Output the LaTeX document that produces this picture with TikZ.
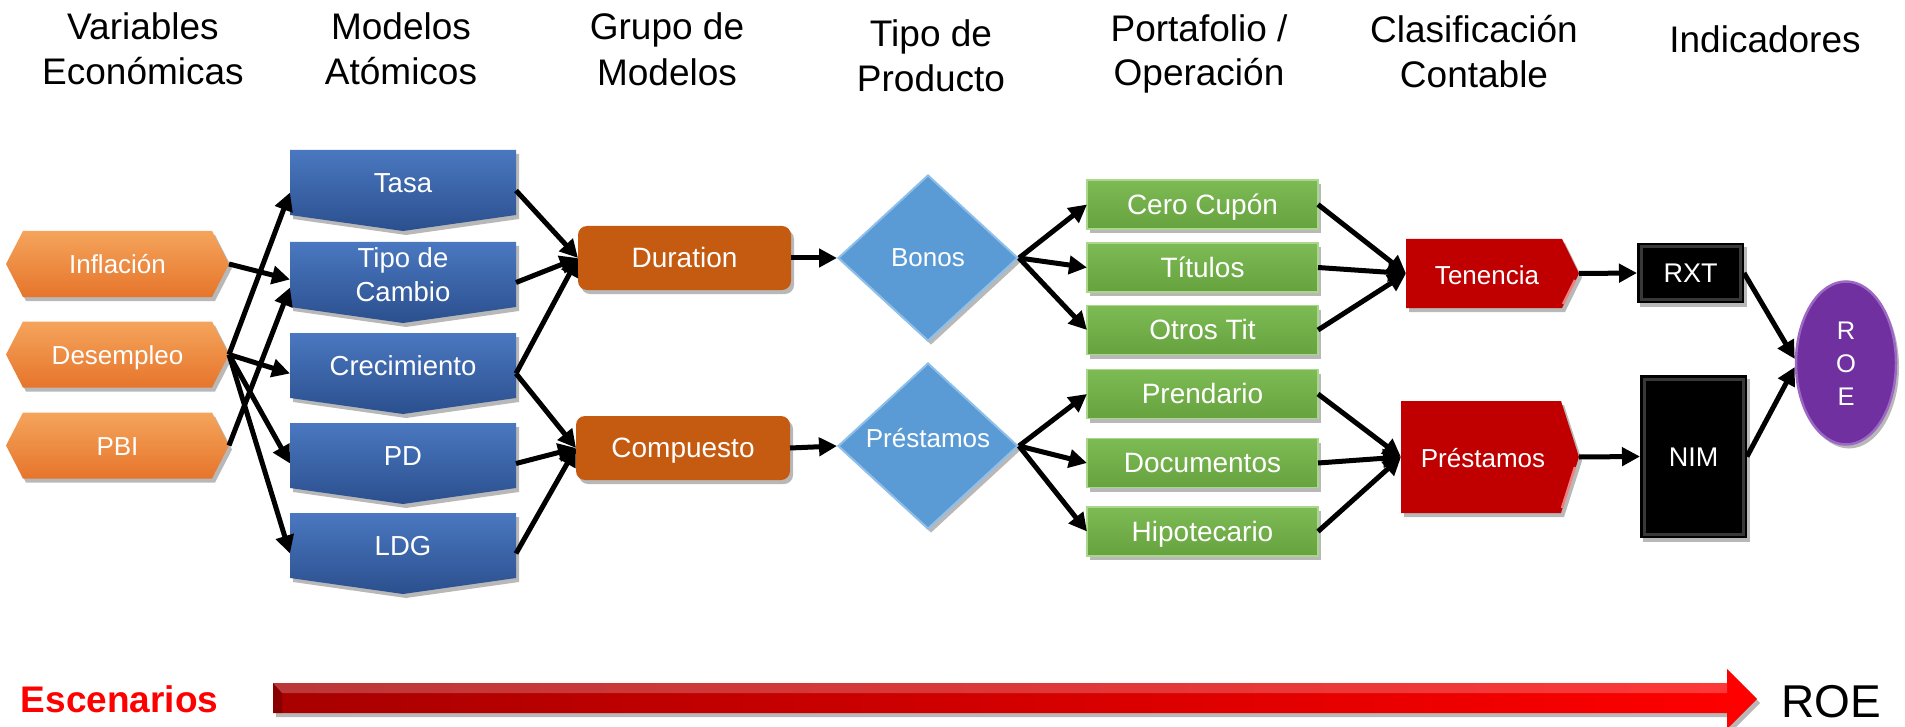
\documentclass[tikz,border=0pt]{standalone}
\usepackage{fontspec}
\setmainfont{Liberation Sans}
\usetikzlibrary{arrows.meta,shapes.geometric,calc,shadows}
\definecolor{orgA}{HTML}{F5A45C}
\definecolor{orgB}{HTML}{E6752B}
\definecolor{bluA}{HTML}{4A78C0}
\definecolor{bluB}{HTML}{2B4F8E}
\definecolor{durC}{HTML}{C55A11}
\definecolor{diaC}{HTML}{5B9BD5}
\definecolor{diaL}{HTML}{8DBFEA}
\definecolor{grnA}{HTML}{7DBB55}
\definecolor{grnB}{HTML}{66A23E}
\definecolor{grnL}{HTML}{A9D88A}
\definecolor{redC}{HTML}{C00000}
\definecolor{redL}{HTML}{F08080}
\definecolor{blkL}{HTML}{383838}
\definecolor{purC}{HTML}{7030A0}
\definecolor{purL}{HTML}{9C68C4}
\definecolor{scA}{HTML}{A80000}
\definecolor{scB}{HTML}{FF0000}
\newcommand{\hexo}[2]{\shade[shd,top color=orgA,bottom color=orgB,shift={(#1,#2)}] (-111.5,0) -- (-94.5,-33) -- (94.5,-33) -- (111.5,0) -- (94.5,33) -- (-94.5,33) -- cycle;}
\newcommand{\offpage}[1]{\shade[shd,top color=bluA,bottom color=bluB] (290,#1) -- (516,#1) -- (516,#1+65) -- (403,#1+81) -- (290,#1+65) -- cycle;}
\begin{document}
\begin{tikzpicture}[x=1pt,y=-1pt,
  conn/.style={line width=5pt,-{Triangle[length=18pt,width=18pt]}},
  anchorbox/.style={draw=none,fill=none,inner sep=0pt,outer sep=0pt,rectangle},
  boxtxt/.style={text=white,inner sep=0pt,outer sep=0pt,text height=25.4pt,text depth=6pt,font=\fontsize{27}{33}\selectfont},
  mltxt/.style={text=white,inner sep=0pt,align=center},
  hdr/.style={inner sep=0pt,anchor=base,font=\fontsize{37}{40}\selectfont},
  shd/.style={drop shadow={shadow xshift=3pt,shadow yshift=-4pt,opacity=0.28,fill=black}},
  grnbox/.style={shd,boxtxt,top color=grnA,bottom color=grnB,draw=grnL,line width=1.5pt,minimum width=231pt,minimum height=49pt,font=\fontsize{28}{33}\selectfont},
  blkbox/.style={shd,boxtxt,fill=black,minimum width=107pt,
    path picture={\draw[blkL,line width=3pt] ([shift={(4pt,4pt)}]path picture bounding box.south west) rectangle ([shift={(-4pt,-4pt)}]path picture bounding box.north east);}},
  orgbox/.style={shd,boxtxt,fill=durC,rounded corners=9pt,minimum height=64pt,font=\fontsize{28}{33}\selectfont}
]
\fill[white] (0,0) rectangle (1905,727);
\useasboundingbox (0,0) rectangle (1905,727);

% headers
\node[hdr] (h1a) at (143,40) {Variables};
\node[hdr] (h1b) at (143,85) {Económicas};
\node[hdr] (h2a) at (401,40) {Modelos};
\node[hdr] (h2b) at (401,85) {Atómicos};
\node[hdr] (h3a) at (667,40) {Grupo de};
\node[hdr] (h3b) at (667,86) {Modelos};
\node[hdr] (h4a) at (931,47) {Tipo de};
\node[hdr] (h4b) at (931,92) {Producto};
\node[hdr] (h5a) at (1199,42) {Portafolio /};
\node[hdr] (h5b) at (1199,86) {Operación};
\node[hdr] (h6a) at (1474,43) {Clasificación};
\node[hdr] (h6b) at (1474,88) {Contable};
\node[hdr] (h7) at (1765,53) {Indicadores};

% economic variables
\hexo{117.5}{264}
\hexo{117.5}{354.5}
\hexo{117.5}{445.5}
\node[anchorbox,boxtxt,font=\fontsize{26}{32}\selectfont,minimum width=223pt,minimum height=66pt] (inf) at (117.5,264) {Inflación};
\node[anchorbox,boxtxt,font=\fontsize{26}{32}\selectfont,minimum width=223pt,minimum height=66pt] (des) at (117.5,354.5) {Desempleo};
\node[anchorbox,boxtxt,font=\fontsize{26}{32}\selectfont,minimum width=223pt,minimum height=66pt] (pbi) at (117.5,445.5) {PBI};

% atomic models
\offpage{150}
\offpage{242}
\offpage{333}
\offpage{423}
\offpage{513}
\node[anchorbox,minimum width=226pt,minimum height=81pt] (tasa) at (403,190.5) {};
\node[anchorbox,minimum width=226pt,minimum height=81pt] (tipo) at (403,282.5) {};
\node[anchorbox,minimum width=226pt,minimum height=81pt] (crec) at (403,373.5) {};
\node[anchorbox,minimum width=226pt,minimum height=81pt] (pd) at (403,463.5) {};
\node[anchorbox,minimum width=226pt,minimum height=81pt] (ldg) at (403,553.5) {};
\node[boxtxt,font=\fontsize{27.5}{34}\selectfont] (tasaT) at (403,182.5) {Tasa};
\node[mltxt,font=\fontsize{27.5}{34}\selectfont] (tipoT) at (403,274.5) {Tipo de\\Cambio};
\node[boxtxt,font=\fontsize{27.5}{34}\selectfont] (crecT) at (403,365.5) {Crecimiento};
\node[boxtxt,font=\fontsize{27.5}{34}\selectfont] (pdT) at (403,455.5) {PD};
\node[boxtxt,font=\fontsize{27.5}{34}\selectfont] (ldgT) at (403,545.5) {LDG};

% model groups
\node[orgbox,minimum width=213pt] (dur) at (684.5,258) {Duration};
\node[orgbox,minimum width=214pt] (comp) at (683,448) {Compuesto};

% product types
\node[diamond,shd,fill=diaC,draw=diaL,line width=2pt,minimum width=180pt,minimum height=166pt,inner sep=0pt] (bonos) at (928,258) {};
\node[diamond,shd,fill=diaC,draw=diaL,line width=2pt,minimum width=180pt,minimum height=166pt,inner sep=0pt] (prest) at (928,446) {};
\node[boxtxt,font=\fontsize{26}{32}\selectfont] (bonosT) at (928,257) {Bonos};
\node[boxtxt,font=\fontsize{26}{32}\selectfont] (prestT) at (928,438) {Préstamos};

% portfolios
\node[grnbox] (cero) at (1202.5,204.5) {Cero Cupón};
\node[grnbox] (titu) at (1202.5,267.5) {Títulos};
\node[grnbox] (otro) at (1202.5,330) {Otros Tit};
\node[grnbox] (pren) at (1202.5,394) {Prendario};
\node[grnbox] (docu) at (1202.5,463) {Documentos};
\node[grnbox] (hipo) at (1202.5,531.5) {Hipotecario};

% accounting classes
\fill[shd,redC] (1406,239) -- (1562,239) -- (1579,273.5) -- (1562,308) -- (1406,308) -- cycle;
\draw[redL,line width=2.5pt] (1575,280) -- (1563,304);
\fill[shd,redC] (1401,401) -- (1561,401) -- (1579,457) -- (1561,513) -- (1401,513) -- cycle;
\draw[redL,line width=2.5pt] (1575,467) -- (1562,508);
\node[anchorbox,minimum width=173pt,minimum height=69pt] (ten) at (1492.5,273.5) {};
\node[anchorbox,minimum width=178pt,minimum height=112pt] (pres2) at (1490,457) {};
\node[boxtxt,font=\fontsize{26}{32}\selectfont] (tenT) at (1487,275) {Tenencia};
\node[boxtxt,font=\fontsize{26}{32}\selectfont] (pres2T) at (1483,458) {Préstamos};

% indicators
\node[blkbox,minimum height=60pt] (rxt) at (1690.5,273) {RXT};
\node[blkbox,minimum height=163pt] (nim) at (1693.5,456.5) {NIM};
\node[ellipse,shd,fill=purC,draw=purL,line width=2.5pt,minimum width=100pt,minimum height=163pt,inner sep=0pt] (roe) at (1846,363) {};
\node[mltxt,font=\fontsize{25.5}{33}\selectfont] (roeT) at (1846,364) {R\\O\\E};

% connectors
\draw[conn] (inf.east) -- ($(tipo.west)+(0,-3)$);
\draw[conn] (des.east) -- ($(tasa.west)+(0,2)$);
\draw[conn] (pbi.east) -- ($(tipo.west)+(0,5)$);
\draw[conn] (des.east) -- (crec.west);
\draw[conn] (des.east) -- (pd.west);
\draw[conn] (des.east) -- (ldg.west);
\draw[conn] (tasa.east) -- (dur.west);
\draw[conn] (tipo.east) -- (dur.west);
\draw[conn] (crec.east) -- (dur.west);
\draw[conn] (crec.east) -- (comp.west);
\draw[conn] (pd.east) -- (comp.west);
\draw[conn] (ldg.east) -- (comp.west);
\draw[conn] (dur.east) -- (bonos.west);
\draw[conn] (comp.east) -- (prest.west);
\draw[conn] (bonos.east) -- (cero.west);
\draw[conn] (bonos.east) -- (titu.west);
\draw[conn] (bonos.east) -- (otro.west);
\draw[conn] (prest.east) -- (pren.west);
\draw[conn] (prest.east) -- (docu.west);
\draw[conn] (prest.east) -- (hipo.west);
\draw[conn] (cero.east) -- (ten.west);
\draw[conn] (titu.east) -- (ten.west);
\draw[conn] (otro.east) -- (ten.west);
\draw[conn] (pren.east) -- (pres2.west);
\draw[conn] (docu.east) -- (pres2.west);
\draw[conn] (hipo.east) -- (pres2.west);
\draw[conn] (ten.east) -- (rxt.west);
\draw[conn] (pres2.east) -- (nim.west);
\draw[conn] (rxt.east) -- ($(roe.west)+(0,-4)$);
\draw[conn] (nim.east) -- ($(roe.west)+(0,4)$);

% scenario arrow
\shade[shd,left color=scA,right color=scB] (273,683) -- (1727,683) -- (1727,669) -- (1757,699) -- (1727,729) -- (1727,713) -- (273,713) -- cycle;
\fill[white,opacity=0.22] (273,683) -- (1727,683) -- (1727,693) -- (282,693) -- cycle;
\fill[black,opacity=0.18] (273,683) -- (282,693) -- (282,713) -- (273,713) -- cycle;
\node[anchor=base,inner sep=0pt,text=scB,font=\bfseries\fontsize{37}{40}\selectfont] (esc) at (119.5,712) {Escenarios};
\node[anchor=base,inner sep=0pt,font=\fontsize{46}{50}\selectfont] (roeB) at (1831.5,717) {ROE};
\end{tikzpicture}
\end{document}
